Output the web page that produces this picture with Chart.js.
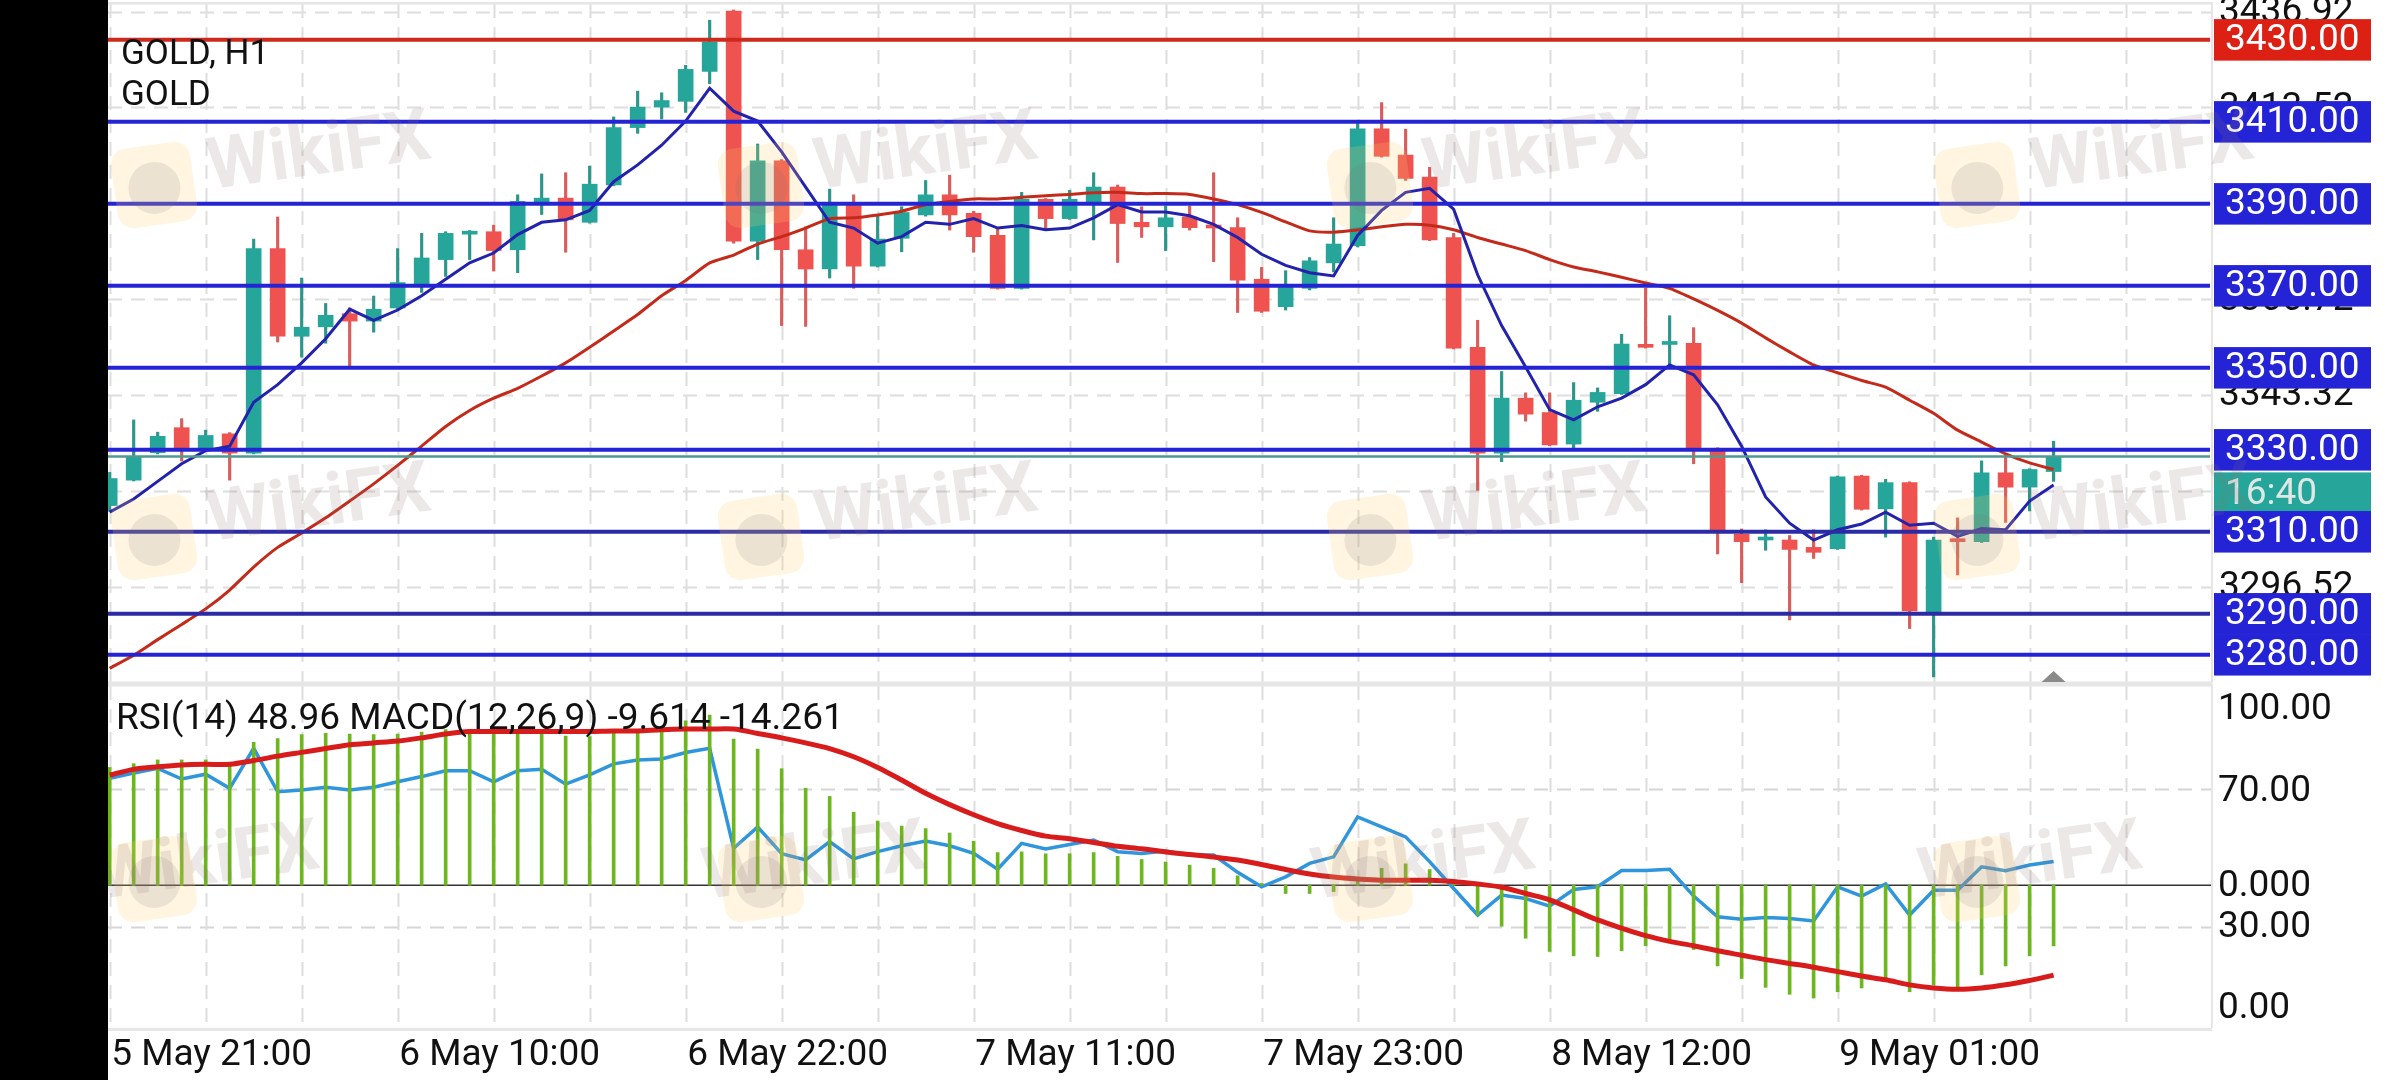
<!DOCTYPE html>
<html><head><meta charset="utf-8">
<script src="https://cdn.jsdelivr.net/npm/chart.js@4.4.1/dist/chart.umd.min.js"></script>
<style>
html,body{margin:0;padding:0;background:#fff;}
#wrap{position:relative;width:2400px;height:1080px;overflow:hidden;background:#fff;}
canvas{position:absolute;left:0;}
#c1{top:0;} #c2{top:684px;}
</style></head><body>
<div id="wrap"><canvas id="c1" width="2400" height="684"></canvas><canvas id="c2" width="2400" height="396"></canvas></div>
<script>
// ---------------- DATA ----------------
const symbol = 'GOLD';
const timeframe = 'H1';
const countdown = '16:40';
const times = [
 '5 May 17:00','5 May 18:00','5 May 19:00','5 May 20:00','5 May 21:00','5 May 22:00','5 May 23:00',
 '6 May 01:00','6 May 02:00','6 May 03:00','6 May 04:00','6 May 05:00','6 May 06:00','6 May 07:00','6 May 08:00',
 '6 May 09:00','6 May 10:00','6 May 11:00','6 May 12:00','6 May 13:00','6 May 14:00','6 May 15:00','6 May 16:00',
 '6 May 17:00','6 May 18:00','6 May 19:00','6 May 20:00','6 May 21:00','6 May 22:00','6 May 23:00',
 '7 May 01:00','7 May 02:00','7 May 03:00','7 May 04:00','7 May 05:00','7 May 06:00','7 May 07:00','7 May 08:00',
 '7 May 09:00','7 May 10:00','7 May 11:00','7 May 12:00','7 May 13:00','7 May 14:00','7 May 15:00','7 May 16:00',
 '7 May 17:00','7 May 18:00','7 May 19:00','7 May 20:00','7 May 21:00','7 May 22:00','7 May 23:00',
 '8 May 01:00','8 May 02:00','8 May 03:00','8 May 04:00','8 May 05:00','8 May 06:00','8 May 07:00','8 May 08:00',
 '8 May 09:00','8 May 10:00','8 May 11:00','8 May 12:00','8 May 13:00','8 May 14:00','8 May 15:00','8 May 16:00',
 '8 May 17:00','8 May 18:00','8 May 19:00','8 May 20:00','8 May 21:00','8 May 22:00','8 May 23:00',
 '9 May 01:00','9 May 02:00','9 May 03:00','9 May 04:00','9 May 05:00','9 May 06:00'
];
const timeTickIdx = [4,16,28,40,52,64,76];

const opens = [3316.4,3322.6,3329.3,3335.4,3330.1,3333.9,3329.2,3379.1,3357.7,3360.0,
 3363.2,3361.4,3364.6,3370.0,3376.4,3382.6,3383.2,3378.8,3390.3,3391.4,
 3385.5,3394.6,3408.6,3413.6,3415.0,3422.3,3437.0,3380.9,3400.5,3378.8,
 3374.1,3389.8,3374.8,3381.6,3387.3,3392.2,3387.7,3382.3,3369.4,3391.1,
 3386.4,3390.3,3394.1,3385.5,3384.4,3386.8,3384.8,3384.2,3371.6,3364.9,
 3369.4,3375.6,3379.8,3408.3,3401.9,3396.5,3381.8,3355.0,3329.2,3342.6,
 3339.1,3331.4,3341.6,3343.7,3355.7,3355.7,3356.0,3330.3,3309.4,3308.0,
 3308.0,3306.2,3305.9,3323.6,3315.6,3322.0,3290.5,3308.0,3307.6,3324.4,
 3320.9,3324.7];
const highs = [3324.5,3337.3,3334.3,3337.6,3334.8,3334.2,3381.4,3386.8,3371.9,3365.7,
 3364.6,3367.5,3379.1,3382.8,3383.2,3383.5,3384.8,3392.2,3397.3,3397.6,
 3399.2,3411.2,3417.5,3417.1,3423.8,3434.8,3437.3,3404.6,3400.8,3384.4,
 3393.6,3392.2,3387.4,3389.3,3395.7,3397.0,3388.2,3383.9,3392.8,3391.3,
 3393.3,3397.6,3394.6,3389.3,3389.5,3389.5,3397.6,3386.6,3374.5,3373.7,
 3376.9,3386.6,3409.6,3414.7,3408.2,3398.9,3382.8,3361.6,3349.1,3343.9,
 3343.9,3346.4,3345.1,3358.2,3369.4,3362.7,3359.8,3330.5,3310.7,3310.5,
 3309.1,3310.5,3323.6,3323.8,3322.8,3322.2,3308.7,3313.4,3327.3,3328.7,
 3325.4,3332.1];
const lows = [3315.0,3322.4,3329.0,3327.3,3329.8,3322.6,3329.0,3356.3,3352.6,3356.0,
 3350.5,3358.7,3364.4,3368.4,3372.3,3376.4,3373.6,3373.2,3387.4,3378.2,
 3385.3,3394.4,3407.2,3410.7,3412.3,3419.3,3380.4,3376.4,3360.3,3360.1,
 3371.9,3369.4,3374.6,3378.3,3387.0,3383.6,3378.2,3369.2,3369.2,3383.9,
 3386.2,3381.2,3375.7,3381.8,3378.6,3383.6,3375.9,3363.5,3363.5,3364.1,
 3369.0,3373.4,3379.5,3401.4,3395.7,3381.0,3354.6,3320.1,3327.1,3337.0,
 3331.0,3330.5,3339.4,3343.5,3354.8,3350.7,3326.6,3304.6,3297.6,3305.5,
 3288.5,3303.5,3305.7,3315.3,3308.7,3286.4,3274.6,3299.5,3307.4,3312.3,
 3315.1,3322.3];
const closes = [3323.0,3328.4,3333.3,3330.5,3333.5,3329.2,3379.1,3357.7,3359.9,3362.8,
 3361.4,3364.3,3370.8,3376.8,3382.8,3383.2,3378.6,3390.6,3391.4,3386.1,
 3394.8,3408.6,3413.6,3415.2,3422.8,3429.5,3380.9,3400.5,3378.8,3374.1,
 3390.0,3374.8,3381.4,3387.9,3392.2,3387.3,3382.0,3369.4,3391.1,3386.4,
 3391.1,3394.1,3385.2,3384.4,3386.6,3384.2,3384.1,3371.4,3363.8,3370.2,
 3376.1,3380.2,3408.3,3401.6,3396.2,3381.2,3354.8,3329.2,3342.6,3338.7,
 3331.2,3342.1,3344.0,3355.8,3355.0,3356.4,3330.3,3310.0,3307.6,3308.3,
 3305.7,3305.0,3323.4,3315.5,3322.0,3290.7,3308.0,3307.6,3324.4,3320.9,
 3325.2,3328.4];
const maFast = [3314.8,3318.0,3322.3,3326.6,3329.8,3330.9,3341.6,3345.9,3351.2,3357.1,
 3364.3,3361.6,3364.1,3367.6,3371.6,3375.6,3378.0,3382.5,3385.5,3386.1,
 3388.4,3395.4,3399.5,3404.3,3410.2,3418.2,3412.6,3410.2,3402.7,3394.1,
 3385.5,3384.1,3380.4,3382.0,3385.5,3385.0,3386.4,3384.1,3384.7,3383.7,
 3384.1,3386.6,3389.8,3388.0,3388.0,3387.1,3385.0,3381.8,3377.7,3375.0,
 3373.2,3372.4,3382.3,3388.4,3392.8,3393.8,3388.7,3372.7,3360.3,3350.2,
 3339.8,3337.3,3340.5,3342.6,3345.9,3350.7,3348.3,3341.0,3330.9,3318.5,
 3312.1,3308.0,3310.5,3311.9,3314.8,3311.6,3312.1,3308.9,3310.8,3310.5,
 3317.5,3321.4];
const maSlow = [3276.7,3279.9,3283.7,3287.4,3291.2,3295.8,3301.4,3306.2,3309.7,3313.4,
 3317.5,3321.7,3326.2,3330.9,3335.7,3339.6,3342.6,3345.0,3348.0,3351.2,
 3355.0,3359.0,3363.0,3367.6,3371.3,3375.6,3377.5,3380.2,3382.0,3384.1,
 3386.4,3386.6,3387.3,3388.2,3389.8,3390.6,3391.2,3391.2,3391.6,3392.0,
 3392.3,3392.7,3392.8,3392.5,3392.5,3392.3,3391.2,3389.8,3387.9,3385.6,
 3383.4,3383.1,3383.6,3384.4,3385.0,3384.8,3383.7,3381.8,3380.2,3378.6,
 3376.4,3374.6,3373.4,3372.1,3370.7,3369.4,3366.8,3364.0,3360.9,3357.3,
 3353.9,3350.7,3348.8,3346.9,3345.3,3342.1,3338.9,3334.8,3331.9,3329.0,
 3326.8,3325.2];
const rsi = [73.1,74.6,76.0,72.9,74.3,70.2,81.8,69.2,69.7,70.5,
 69.7,70.5,72.1,73.6,75.3,75.3,72.1,75.3,75.7,71.4,
 74.1,77.3,78.4,78.7,80.6,81.8,52.8,59.0,51.2,49.4,
 54.7,49.7,51.8,53.5,54.9,53.5,51.3,46.7,54.2,52.6,
 53.9,55.2,51.8,51.3,52.0,50.8,50.8,45.8,41.6,44.5,
 48.4,50.3,61.9,59.0,56.1,48.9,41.1,33.4,39.2,38.2,
 36.0,40.8,41.6,46.3,46.3,46.7,38.9,32.9,32.2,32.7,
 32.4,31.7,41.6,38.9,42.4,33.4,40.6,40.6,47.4,46.3,
 47.9,48.96];
const macd = [18.7,19.3,19.9,19.9,19.9,18.9,22.7,23.3,23.9,24.1,
 24.0,23.9,24.0,24.3,24.7,24.7,24.4,24.7,24.2,23.7,
 23.6,24.4,24.7,24.7,26.1,27.0,23.2,21.6,18.5,15.4,
 14.1,11.6,10.2,9.4,9.0,8.3,7.0,5.2,5.3,5.0,
 5.0,5.2,4.6,4.1,3.7,3.2,2.7,1.5,0.3,-1.3,
 -1.3,-1.0,1.1,2.7,3.4,2.5,0.8,-4.7,-6.5,-8.4,
 -10.5,-11.2,-11.3,-10.4,-9.6,-8.7,-10.2,-12.8,-14.8,-16.2,
 -17.3,-17.9,-16.9,-16.3,-15.0,-16.9,-15.8,-16.1,-14.2,-12.8,
 -11.2,-9.614];
const signal = [17.5,18.4,18.8,19.1,19.2,19.2,19.8,20.5,21.1,21.7,
 22.3,22.6,22.9,23.4,24.0,24.4,24.4,24.4,24.4,24.4,
 24.4,24.5,24.5,24.7,24.8,24.8,24.8,24.1,23.4,22.6,
 21.7,20.4,18.7,16.7,14.6,12.8,11.2,9.8,8.7,7.8,
 7.4,6.8,6.2,5.8,5.3,4.9,4.5,4.0,3.3,2.5,
 1.8,1.3,1.0,0.8,0.8,0.8,0.6,0.2,-0.3,-1.3,
 -2.3,-3.9,-5.5,-6.8,-8.0,-8.9,-9.6,-10.4,-11.1,-11.8,
 -12.4,-13.0,-13.7,-14.4,-15.0,-15.8,-16.3,-16.5,-16.3,-15.8,
 -15.1,-14.261];
const priceTicks = [3436.92,3413.52,3390.12,3366.72,3343.32,3319.92,3296.52];
const levels = [3430,3410,3390,3370,3350,3330,3310,3290,3280];
const rsiLevels = [70,30];

// ---------------- STYLE ----------------
const FONT = '37px Roboto, "Noto Sans", sans-serif';
const UP = '#26a69a', DN = '#ef5350', UPW = '#2b978c', DNW = '#d65f5b';
const LEFT = 108, RIGHT_PAD = 188, LABX = 2214, LABW = 157, LABH = 41.5;
const last = closes.length - 1;
const isUp = closes.map((c,i)=>c>=opens[i]);

function hl(ctx,x1,x2,y){ctx.beginPath();ctx.moveTo(x1,y);ctx.lineTo(x2,y);ctx.stroke();}
function vl(ctx,x,y1,y2){ctx.beginPath();ctx.moveTo(x,y1);ctx.lineTo(x,y2);ctx.stroke();}
function vGrid(chart){
  const {ctx, chartArea:a, scales:{x}} = chart;
  ctx.save(); ctx.strokeStyle='#dedede'; ctx.lineWidth=2; ctx.setLineDash([14,9]);
  for(let k=0;k<=84;k+=4){const px=Math.round(x.getPixelForValue(k))+0.5; if(px>=a.left-1&&px<=a.right) vl(ctx,px,a.top,a.bottom);}
  ctx.restore();
}
function watermark(ctx,cx,cy){
  ctx.save(); ctx.translate(cx,cy); ctx.rotate(-0.14);
  ctx.fillStyle='rgba(255,205,100,0.2)';
  ctx.beginPath(); ctx.roundRect(-40,-40,80,80,16); ctx.fill();
  ctx.fillStyle='rgba(110,110,125,0.14)';
  ctx.beginPath(); ctx.arc(0,3,26,0,Math.PI*2); ctx.fill();
  ctx.font='bold 72px Roboto, sans-serif'; ctx.fillStyle='rgba(140,115,110,0.16)';
  ctx.textBaseline='alphabetic'; ctx.fillText('WikiFX',55,12);
  ctx.restore();
}
const wmX = [154,761,1370,1977];

// ---------------- MAIN CHART ----------------
const deco1 = {
  id:'deco1',
  beforeDraw(chart){const c=chart.ctx; c.save(); c.fillStyle='#fff'; c.fillRect(0,0,chart.width,chart.height); c.restore();},
  beforeDatasetsDraw(chart){
    const {ctx, chartArea:a, scales:{y}} = chart;
    ctx.save();
    ctx.strokeStyle='#dedede'; ctx.lineWidth=2; ctx.setLineDash([14,9]);
    priceTicks.forEach(v=>{const py=Math.round(y.getPixelForValue(v))+0.5; hl(ctx,a.left,a.right,py);});
    ctx.restore();
    vGrid(chart);
    ctx.save(); ctx.fillStyle='#e6e6e6';
    ctx.fillRect(a.left,2,a.right-a.left,2.5);
    ctx.fillRect(a.left,a.bottom-1.5,a.right-a.left,3);
    ctx.fillRect(a.right-1,2,2,a.bottom-2);
    ctx.restore();
  },
  afterDatasetsDraw(chart){
    const {ctx, chartArea:a, scales:{y}} = chart;
    ctx.save();
    ctx.strokeStyle='#4f9a90'; ctx.lineWidth=2.5;
    hl(ctx,a.left,a.right-2,y.getPixelForValue(closes[last]));
    levels.forEach(v=>{
      ctx.strokeStyle = v===3430 ? '#cc2a1c' : ((v===3310||v===3290) ? '#2b2ba6' : '#2424d4');
      ctx.lineWidth=4;
      hl(ctx,a.left,a.right-2,y.getPixelForValue(v));
    });
    ctx.restore();
  },
  afterDraw(chart){
    const {ctx, chartArea:a, scales:{x,y}} = chart;
    ctx.save();
    const tx = x.getPixelForValue(last);
    ctx.fillStyle='#8a8a8a'; ctx.beginPath(); ctx.moveTo(tx-12,a.bottom-1); ctx.lineTo(tx+12,a.bottom-1); ctx.lineTo(tx,a.bottom-12); ctx.closePath(); ctx.fill();
    ctx.font=FONT; ctx.textBaseline='middle'; ctx.textAlign='left'; ctx.fillStyle='#111';
    priceTicks.forEach(v=>ctx.fillText(v.toFixed(2),2219,y.getPixelForValue(v)+1));
    const bidY = y.getPixelForValue(closes[last]);
    ctx.fillStyle=UP; ctx.fillRect(LABX,bidY+16,LABW,LABH);
    ctx.fillStyle='#dfe8e6'; ctx.fillText(countdown,2225,bidY+16+LABH/2+2);
    levels.forEach(v=>{
      const py=y.getPixelForValue(v);
      ctx.fillStyle = v===3430 ? '#dd2014' : '#2424d6';
      ctx.fillRect(LABX,py-LABH/2,LABW,LABH);
      ctx.fillStyle='#fff'; ctx.fillText(v.toFixed(2),2225,py+1);
    });
    ctx.fillStyle='#111'; ctx.font='35px Roboto, "Noto Sans", sans-serif'; ctx.textBaseline='alphabetic';
    ctx.fillText(symbol+', '+timeframe,121,64);
    ctx.fillText(symbol,121,105);
    wmX.forEach(cx=>{watermark(ctx,cx,185); watermark(ctx,cx,537);});
    ctx.fillStyle='#000'; ctx.fillRect(0,0,LEFT,chart.height);
    ctx.restore();
  }
};

new Chart(document.getElementById('c1'), {
  type:'bar',
  data:{datasets:[
    {type:'line', label:'MA fast', data:maFast.map((v,i)=>({x:i,y:v})), borderColor:'#2222ad', borderWidth:3, pointRadius:0, tension:0, clip:0},
    {type:'line', label:'MA slow', data:maSlow.map((v,i)=>({x:i,y:v})), borderColor:'#c42a1a', borderWidth:3, pointRadius:0, tension:0.2, clip:0},
    {type:'bar', label:'body', data:opens.map((o,i)=>({x:i,y:[o,closes[i]]})), backgroundColor:isUp.map(u=>u?UP:DN), barThickness:15, minBarLength:3, grouped:false, borderWidth:0, clip:0},
    {type:'bar', label:'wick', data:highs.map((h,i)=>({x:i,y:[lows[i],h]})), backgroundColor:isUp.map(u=>u?UPW:DNW), barThickness:2.5, grouped:false, borderWidth:0, clip:0}
  ]},
  options:{
    responsive:false, animation:false, devicePixelRatio:1, events:[],
    layout:{padding:{left:LEFT,right:RIGHT_PAD,top:4,bottom:1}},
    plugins:{legend:{display:false}, tooltip:{enabled:false}},
    scales:{
      x:{type:'linear', min:-0.07, max:87.6, display:false, offset:false},
      y:{type:'linear', min:3273.12, max:3438.75, display:false}
    }
  },
  plugins:[deco1]
});

// ---------------- INDICATOR CHART ----------------
const deco2 = {
  id:'deco2',
  beforeDraw(chart){const c=chart.ctx; c.save(); c.fillStyle='#fff'; c.fillRect(0,0,chart.width,chart.height); c.restore();},
  beforeDatasetsDraw(chart){
    const {ctx, chartArea:a, scales:{yR,yM}} = chart;
    ctx.save();
    ctx.strokeStyle='#d6d6d6'; ctx.lineWidth=2; ctx.setLineDash([14,9]);
    rsiLevels.forEach(v=>hl(ctx,a.left,a.right,Math.round(yR.getPixelForValue(v))+0.5));
    ctx.restore();
    vGrid(chart);
    ctx.save();
    ctx.strokeStyle='#333'; ctx.lineWidth=1.5; hl(ctx,a.left,a.right,yM.getPixelForValue(0));
    ctx.fillStyle='#e6e6e6';
    ctx.fillRect(a.left,0,a.right-a.left,2.5);
    ctx.fillRect(a.left,a.bottom,a.right-a.left,3);
    ctx.fillRect(a.right-1,0,2,a.bottom);
    ctx.restore();
  },
  afterDraw(chart){
    const {ctx, chartArea:a, scales:{x,yR,yM}} = chart;
    ctx.save();
    ctx.font=FONT; ctx.fillStyle='#111';
    ctx.textBaseline='alphabetic'; ctx.textAlign='left';
    ctx.fillText('RSI(14) '+rsi[last].toFixed(2)+' MACD(12,26,9) '+macd[last].toFixed(3)+' '+signal[last].toFixed(3),116,45);
    ctx.textBaseline='middle';
    ctx.fillText('100.00',2218,a.top+24);
    ctx.fillText(rsiLevels[0].toFixed(2),2218,yR.getPixelForValue(rsiLevels[0])+3);
    ctx.fillText((0).toFixed(3),2218,yM.getPixelForValue(0)+1);
    ctx.fillText(rsiLevels[1].toFixed(2),2218,yR.getPixelForValue(rsiLevels[1])+1);
    ctx.fillText((0).toFixed(2),2218,a.bottom-19);
    ctx.textAlign='center'; ctx.textBaseline='alphabetic';
    timeTickIdx.forEach(k=>ctx.fillText(times[k],x.getPixelForValue(k)+6,381));
    wmX.forEach(cx=>watermark(ctx,cx,879-684));
    ctx.fillStyle='#000'; ctx.fillRect(0,0,LEFT,chart.height);
    ctx.restore();
  }
};

new Chart(document.getElementById('c2'), {
  type:'bar',
  data:{datasets:[
    {type:'line', label:'Signal', yAxisID:'yM', data:signal.map((v,i)=>({x:i,y:v})), borderColor:'#d81c1c', borderWidth:5, pointRadius:0, tension:0.3, clip:0},
    {type:'bar', label:'MACD', yAxisID:'yM', data:macd.map((v,i)=>({x:i,y:v})), backgroundColor:'#6cb81c', barThickness:3, grouped:false, borderWidth:0, clip:0},
    {type:'line', label:'RSI', yAxisID:'yR', data:rsi.map((v,i)=>({x:i,y:v})), borderColor:'#2f95dc', borderWidth:3.5, pointRadius:0, tension:0, clip:0}
  ]},
  options:{
    responsive:false, animation:false, devicePixelRatio:1, events:[],
    layout:{padding:{left:LEFT,right:RIGHT_PAD,top:2,bottom:52}},
    plugins:{legend:{display:false}, tooltip:{enabled:false}},
    scales:{
      x:{type:'linear', min:-0.07, max:87.6, display:false, offset:false},
      yR:{type:'linear', position:'right', min:0.6, max:99.9, display:false},
      yM:{type:'linear', position:'right', min:-22.65, max:31.63, display:false}
    }
  },
  plugins:[deco2]
});
</script>
</body></html>
